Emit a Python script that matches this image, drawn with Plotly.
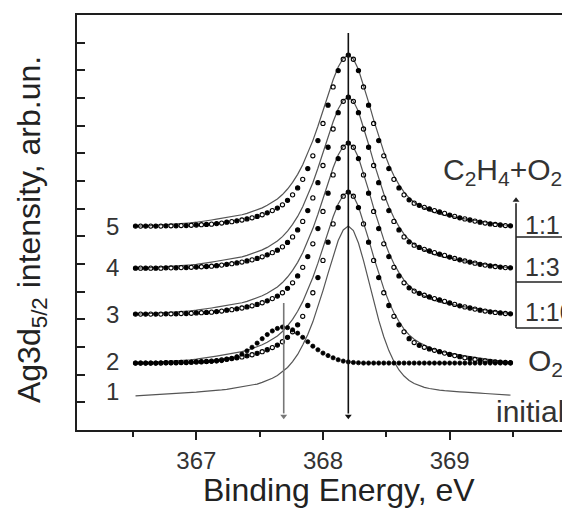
import plotly.graph_objects as go

# ---------------- data ----------------
energy = [
    366.52, 366.56, 366.60, 366.64, 366.68, 366.72, 366.76, 366.80, 366.84, 366.88,
    366.92, 366.96, 367.00, 367.04, 367.08, 367.12, 367.16, 367.20, 367.24, 367.28,
    367.32, 367.36, 367.40, 367.44, 367.48, 367.52, 367.56, 367.60, 367.64, 367.68,
    367.72, 367.76, 367.80, 367.84, 367.88, 367.92, 367.96, 368.00, 368.04, 368.08,
    368.12, 368.16, 368.20, 368.24, 368.28, 368.32, 368.36, 368.40, 368.44, 368.48,
    368.52, 368.56, 368.60, 368.64, 368.68, 368.72, 368.76, 368.80, 368.84, 368.88,
    368.92, 368.96, 369.00, 369.04, 369.08, 369.12, 369.16, 369.20, 369.24, 369.28,
    369.32, 369.36, 369.40, 369.44, 369.48,
]

# measured spectra (net intensity above each spectrum's own baseline)
spec_1_1 = [
    0.00, 0.00, 0.00, 0.00, 0.00, 0.00, 0.01, 0.01, 0.01, 0.02,
    0.02, 0.03, 0.04, 0.05, 0.06, 0.07, 0.09, 0.11, 0.14, 0.16,
    0.19, 0.22, 0.26, 0.30, 0.35, 0.41, 0.48, 0.56, 0.65, 0.77,
    0.93, 1.13, 1.38, 1.69, 2.08, 2.54, 3.09, 3.71, 4.37, 5.03,
    5.62, 6.03, 6.18, 6.03, 5.62, 5.03, 4.37, 3.71, 3.09, 2.54,
    2.08, 1.69, 1.38, 1.13, 0.95, 0.83, 0.75, 0.68, 0.62, 0.56,
    0.51, 0.46, 0.40, 0.35, 0.30, 0.26, 0.22, 0.18, 0.14, 0.11,
    0.08, 0.06, 0.04, 0.02, 0.01,
]
spec_1_3 = [
    0.00, 0.00, 0.00, 0.00, 0.00, 0.00, 0.01, 0.01, 0.01, 0.02,
    0.02, 0.03, 0.04, 0.05, 0.06, 0.07, 0.09, 0.11, 0.14, 0.16,
    0.19, 0.22, 0.26, 0.30, 0.35, 0.41, 0.48, 0.56, 0.65, 0.77,
    0.93, 1.13, 1.38, 1.69, 2.08, 2.54, 3.09, 3.71, 4.37, 5.03,
    5.62, 6.03, 6.18, 6.03, 5.62, 5.03, 4.37, 3.71, 3.09, 2.54,
    2.08, 1.69, 1.38, 1.13, 0.95, 0.83, 0.75, 0.68, 0.62, 0.56,
    0.51, 0.46, 0.40, 0.35, 0.30, 0.26, 0.22, 0.18, 0.14, 0.11,
    0.08, 0.06, 0.04, 0.02, 0.01,
]
spec_1_10 = [
    0.00, 0.00, 0.00, 0.00, 0.00, 0.00, 0.01, 0.01, 0.01, 0.02,
    0.02, 0.03, 0.04, 0.05, 0.06, 0.07, 0.09, 0.11, 0.14, 0.16,
    0.19, 0.22, 0.26, 0.30, 0.35, 0.41, 0.48, 0.56, 0.65, 0.77,
    0.93, 1.13, 1.38, 1.69, 2.08, 2.54, 3.09, 3.71, 4.37, 5.03,
    5.62, 6.03, 6.18, 6.03, 5.62, 5.03, 4.37, 3.71, 3.09, 2.54,
    2.08, 1.69, 1.38, 1.13, 0.95, 0.83, 0.75, 0.68, 0.62, 0.56,
    0.51, 0.46, 0.40, 0.35, 0.30, 0.26, 0.22, 0.18, 0.14, 0.11,
    0.08, 0.06, 0.04, 0.02, 0.01,
]
spec_o2 = [
    0.00, 0.00, 0.00, 0.00, 0.00, 0.00, 0.01, 0.01, 0.01, 0.02,
    0.02, 0.03, 0.04, 0.05, 0.06, 0.07, 0.09, 0.11, 0.14, 0.16,
    0.19, 0.22, 0.26, 0.30, 0.35, 0.41, 0.48, 0.56, 0.65, 0.77,
    0.93, 1.13, 1.38, 1.69, 2.08, 2.54, 3.09, 3.71, 4.37, 5.03,
    5.62, 6.03, 6.18, 6.03, 5.62, 5.03, 4.37, 3.71, 3.09, 2.54,
    2.08, 1.69, 1.38, 1.13, 0.88, 0.74, 0.64, 0.57, 0.51, 0.46,
    0.41, 0.36, 0.31, 0.27, 0.23, 0.19, 0.16, 0.13, 0.10, 0.08,
    0.06, 0.04, 0.03, 0.02, 0.01,
]
# low-energy O2-induced component (filled dots on spectrum 2)
o2_component = [
    0.00, 0.00, 0.00, 0.00, 0.00, 0.01, 0.01, 0.01, 0.02, 0.02,
    0.02, 0.03, 0.04, 0.04, 0.05, 0.06, 0.07, 0.09, 0.13, 0.17,
    0.23, 0.32, 0.44, 0.57, 0.72, 0.88, 1.03, 1.16, 1.25, 1.30,
    1.28, 1.20, 1.08, 0.93, 0.77, 0.61, 0.48, 0.36, 0.27, 0.19,
    0.12, 0.07, 0.04, 0.02, 0.01, 0.00, 0.00, 0.00, 0.00, 0.00,
    0.00, 0.00, 0.00, 0.00, 0.00, 0.00, 0.00, 0.00, 0.00, 0.00,
    0.00, 0.00, 0.00, 0.00, 0.00, 0.00, 0.00, 0.00, 0.00, 0.00,
    0.00, 0.00, 0.00, 0.00, 0.00,
]
# solid reference curves
initial_curve = [
    0.00, 0.01, 0.02, 0.03, 0.04, 0.06, 0.07, 0.08, 0.09, 0.10,
    0.12, 0.13, 0.14, 0.16, 0.17, 0.19, 0.20, 0.22, 0.24, 0.27,
    0.29, 0.32, 0.35, 0.39, 0.43, 0.49, 0.56, 0.64, 0.74, 0.87,
    1.03, 1.24, 1.50, 1.84, 2.22, 2.68, 3.21, 3.81, 4.43, 5.07,
    5.62, 6.00, 6.14, 5.98, 5.53, 4.89, 4.16, 3.42, 2.74, 2.14,
    1.64, 1.25, 0.94, 0.72, 0.56, 0.45, 0.37, 0.31, 0.27, 0.23,
    0.21, 0.19, 0.17, 0.16, 0.15, 0.14, 0.12, 0.11, 0.10, 0.09,
    0.08, 0.06, 0.05, 0.04, 0.03,
]
reference_curve = [
    0.00, 0.00, 0.01, 0.02, 0.03, 0.04, 0.05, 0.06, 0.07, 0.08,
    0.10, 0.12, 0.14, 0.16, 0.19, 0.22, 0.25, 0.28, 0.31, 0.34,
    0.37, 0.41, 0.46, 0.52, 0.59, 0.66, 0.75, 0.85, 0.98, 1.14,
    1.34, 1.58, 1.87, 2.22, 2.63, 3.09, 3.61, 4.17, 4.74, 5.29,
    5.75, 6.07, 6.18, 6.04, 5.66, 5.11, 4.48, 3.84, 3.23, 2.69,
    2.22, 1.82, 1.50, 1.23, 1.02, 0.86, 0.74, 0.64, 0.56, 0.49,
    0.43, 0.39, 0.36, 0.32, 0.29, 0.26, 0.23, 0.20, 0.17, 0.14,
    0.11, 0.08, 0.06, 0.04, 0.02,
]

# stacking offsets of the spectra (arb. units) and their labels
curve_labels = ["5", "4", "3", "2", "1"]
curve_offsets = [7.37, 5.85, 4.19, 2.42, 1.23]
label_levels = [7.35, 5.87, 4.19, 2.49, 1.38]
ratio_labels = ["1:1", "1:3", "1:10"]
ratio_levels = [7.41, 5.89, 4.265]
peak_positions = [368.2, 367.69]
x_ticks = [367, 368, 369]

# ---------------- figure ----------------
INK = "#1e1e1e"
LINE = "#555555"
FONT = "Liberation Sans, Arial, Helvetica, sans-serif"

fig = go.Figure()

def shifted(vals, off):
    return [off + v for v in vals]

# solid curves (drawn underneath)
for off in curve_offsets[:4]:
    fig.add_trace(go.Scatter(x=energy, y=shifted(reference_curve, off), mode="lines",
                             line=dict(color=LINE, width=1.2), hoverinfo="skip"))
fig.add_trace(go.Scatter(x=energy, y=shifted(initial_curve, curve_offsets[4]), mode="lines",
                         line=dict(color=LINE, width=1.2), hoverinfo="skip"))

alt_symbols = ["circle" if i % 2 == 0 else "circle-open" for i in range(len(energy))]
for spec, off in zip([spec_1_1, spec_1_3, spec_1_10, spec_o2], curve_offsets[:4]):
    fig.add_trace(go.Scatter(x=energy, y=shifted(spec, off), mode="markers",
                             marker=dict(symbol=alt_symbols, size=4.2, color="black",
                                         line=dict(color="black", width=1.1)),
                             hoverinfo="skip"))
fig.add_trace(go.Scatter(x=energy, y=shifted(o2_component, curve_offsets[3]), mode="markers",
                         marker=dict(symbol="circle", size=4.2, color="black",
                                     line=dict(color="black", width=0.8)),
                         hoverinfo="skip"))

# small arrowheads at the ends of the peak-position lines and table line
fig.add_trace(go.Scatter(x=peak_positions, y=[0.5, 0.5], mode="markers",
                         marker=dict(symbol="triangle-down", size=6,
                                     color=["#111", "#777"], line=dict(width=0)),
                         hoverinfo="skip"))
fig.add_trace(go.Scatter(x=[369.524], y=[8.3], mode="markers",
                         marker=dict(symbol="triangle-up", size=6, color="#222",
                                     line=dict(width=0)),
                         hoverinfo="skip"))

ann = []
# curve numbers
for lab, lv in zip(curve_labels, label_levels):
    ann.append(dict(x=366.342, y=lv, xref="x", yref="y", text=lab, showarrow=False,
                    xanchor="center", yanchor="middle", font=dict(size=24, color="#333")))

# right-hand labels
ann.append(dict(x=368.932, y=9.33, xref="x", yref="y", xanchor="left", yanchor="middle",
                text="C<sub>2</sub>H<sub>4</sub>+O<sub>2</sub>", showarrow=False,
                font=dict(size=30, color="#333")))
for lab, lv in zip(ratio_labels, ratio_levels):
    ann.append(dict(x=369.579, y=lv, xref="x", yref="y", xanchor="left", yanchor="middle",
                    text=lab, showarrow=False, font=dict(size=25, color="#333")))
ann.append(dict(x=369.603, y=2.45, xref="x", yref="y", xanchor="left", yanchor="middle",
                text="O<sub>2</sub>", showarrow=False, font=dict(size=30, color="#333")))
ann.append(dict(x=369.35, y=0.665, xref="x", yref="y", xanchor="left", yanchor="middle",
                text="initial", showarrow=False, font=dict(size=30, color="#333")))

# axis titles
ann.append(dict(x=0.540, y=-0.1446, xref="paper", yref="paper", xanchor="center",
                yanchor="middle", text="Binding Energy, eV", showarrow=False,
                font=dict(size=32, color="#222")))
ann.append(dict(x=-0.0948, y=0.4819, xref="paper", yref="paper", xanchor="center",
                yanchor="middle", text="Ag3d<sub>5/2</sub> intensity, arb.un.",
                showarrow=False, textangle=-90, font=dict(size=32, color="#222")))

shapes = [
    # peak-position lines
    dict(type="line", xref="x", yref="y", x0=peak_positions[0], x1=peak_positions[0],
         y0=0.6, y1=14.35, line=dict(color="#111", width=1.6)),
    dict(type="line", xref="x", yref="y", x0=peak_positions[1], x1=peak_positions[1],
         y0=0.6, y1=4.59, line=dict(color="#777", width=1.6)),
    # ratio table
    dict(type="line", xref="x", yref="y", x0=369.524, x1=369.524,
         y0=3.687, y1=8.2, line=dict(color="#222", width=1.6)),
]
for yv in [6.976, 5.349, 3.687]:
    shapes.append(dict(type="line", xref="x", yref="y", x0=369.524, x1=370.0,
                       y0=yv, y1=yv, line=dict(color="#222", width=1.5)))

fig.update_layout(
    width=562, height=511,
    margin=dict(l=77, r=0, t=15, b=81),
    paper_bgcolor="white", plot_bgcolor="white",
    showlegend=False,
    font=dict(family=FONT, color="#222"),
    annotations=ann,
    shapes=shapes,
    xaxis=dict(range=[366.058, 369.887], showline=True, linecolor=INK, linewidth=1.6,
               mirror=True, ticks="outside", ticklen=8, tickwidth=1.5, tickcolor=INK,
               tickvals=x_ticks, ticktext=[str(t) for t in x_ticks],
               tickfont=dict(size=24, color="#333"), showgrid=False, zeroline=False,
               minor=dict(tickvals=[366.5, 367.5, 368.5, 369.5], ticks="outside",
                          ticklen=5, tickwidth=1.5, tickcolor=INK, showgrid=False)),
    yaxis=dict(range=[0, 15], showline=True, linecolor=INK, linewidth=1.6, mirror=False,
               ticks="inside", ticklen=8, tickwidth=1.5, tickcolor=INK, dtick=1, tick0=0,
               showticklabels=False, showgrid=False, zeroline=False),
)

fig.write_html("out.html", config={"displayModeBar": False})
